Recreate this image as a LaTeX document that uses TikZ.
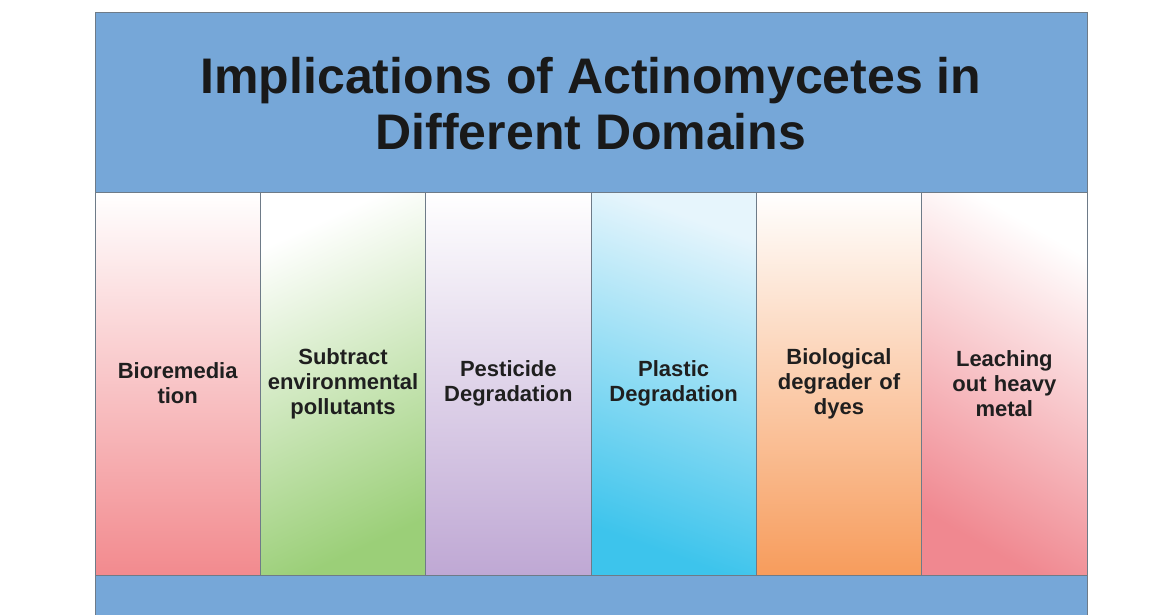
\documentclass[tikz,border=0pt]{standalone}
\usepackage{fontspec}
\setmainfont{Liberation Sans}
\definecolor{hdrblue}{HTML}{76A7D8}
\definecolor{edge}{HTML}{6E7B88}
\definecolor{c1}{HTML}{F28A8E}
\definecolor{c1m}{HTML}{F9C6C8}
\definecolor{c2}{HTML}{9BCF78}
\definecolor{c2m}{HTML}{D6EBC6}
\definecolor{c3}{HTML}{BFA8D4}
\definecolor{c3m}{HTML}{E4DBEE}
\definecolor{c4}{HTML}{3DC4EC}
\definecolor{c4m}{HTML}{A8DFF4}
\definecolor{c4t}{HTML}{E6F5FC}
\definecolor{c5}{HTML}{F79C5C}
\definecolor{c5m}{HTML}{FCD7B8}
\definecolor{c6}{HTML}{F08890}
\definecolor{c6m}{HTML}{F7BCC0}
\tikzset{
  band/.style={draw=edge, line width=1pt, fill=hdrblue, inner sep=0pt, outer sep=0pt, anchor=north west},
  col/.style={draw=edge, line width=1pt, inner sep=0pt, outer sep=0pt, anchor=north west,
    minimum width=165.33pt, minimum height=383pt, text width=160pt, align=center,
    font=\bfseries\fontsize{22}{25}\selectfont, text=black!88},
  title/.style={font=\bfseries\fontsize{50}{56}\selectfont, text=black!90, align=center}
}
\begin{document}
\begin{tikzpicture}[x=1pt,y=-1pt]
\useasboundingbox (0,0) rectangle (1164,614);
\node[band, minimum width=992pt, minimum height=180pt] (head) at (95,12) {};
\node[title] (ttl) at (591,104) {Implications of Actinomycetes in\\Different Domains};
\node[col, top color=white, middle color=c1m, bottom color=c1] (k1) at (95,192) {Bioremedia\\tion};
\node[col, top color=white, middle color=c2m, bottom color=c2, shading angle=25] (k2) at (260.33,192) {Subtract\\environmental\\pollutants};
\node[col, top color=white, middle color=c3m, bottom color=c3] (k3) at (425.67,192) {Pesticide\\Degradation};
\node[col, top color=c4t, middle color=c4m, bottom color=c4, shading angle=-20] (k4) at (591,192) {Plastic\\Degradation};
\node[col, top color=white, middle color=c5m, bottom color=c5] (k5) at (756.33,192) {Biological\\degrader of\\dyes};
\node[col, top color=white, middle color=c6m, bottom color=c6, shading angle=-30] (k6) at (921.67,192) {Leaching\\out heavy\\metal};
\node[band, minimum width=992pt, minimum height=50pt] (foot) at (95,575) {};
\end{tikzpicture}
\end{document}
